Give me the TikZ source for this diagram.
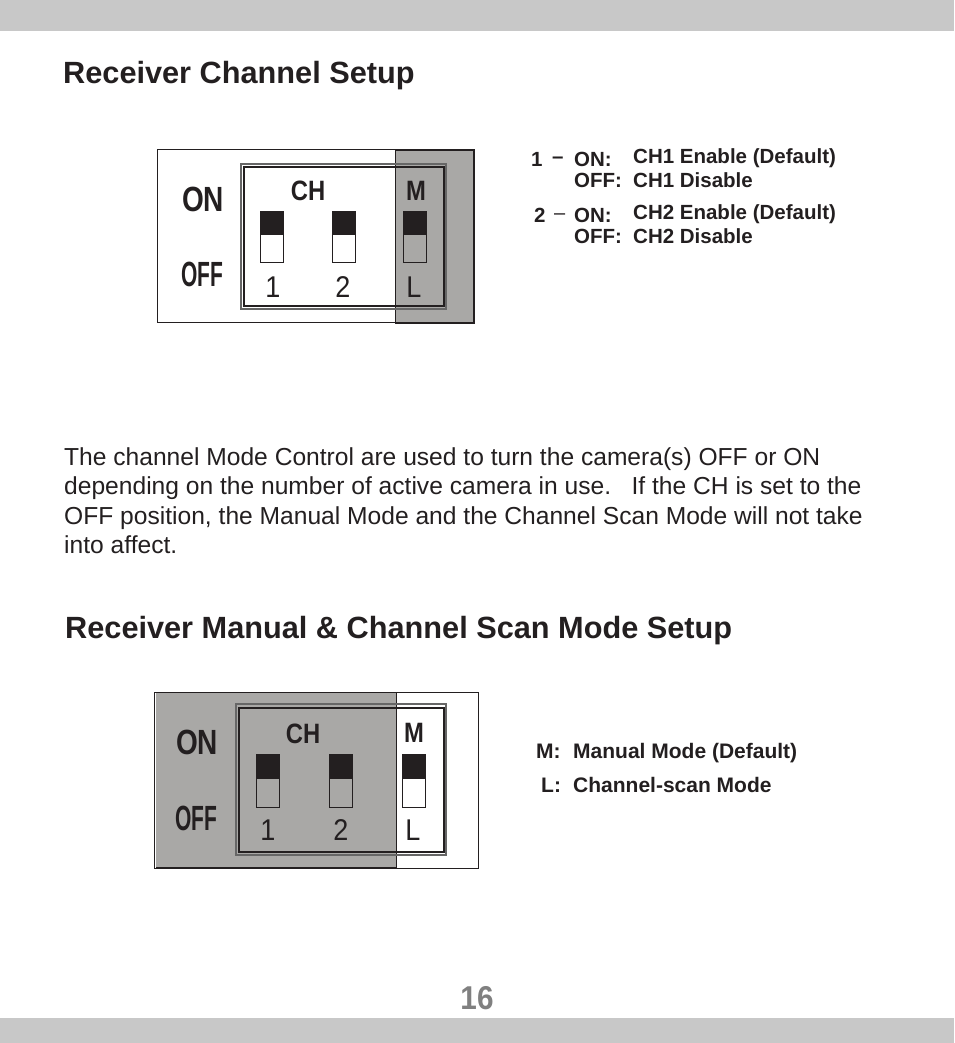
\documentclass[tikz,border=0pt]{standalone}
\usepackage{fontspec}
\setmainfont{Liberation Sans}
\definecolor{bandgray}{HTML}{C8C8C8}
\definecolor{maskgray}{HTML}{A9A8A6}
\definecolor{swblack}{HTML}{231F20}
\tikzset{
  base/.style={inner sep=0pt,anchor=base west,text=swblack},
  heading/.style={base,font=\bfseries\fontsize{30.7}{30.7}\selectfont},
  bodyline/.style={base,font=\fontsize{24.6}{24.6}\selectfont},
  info/.style={base,font=\bfseries\fontsize{20.5}{20.5}\selectfont},
  infobig/.style={base,font=\bfseries\fontsize{21}{21}\selectfont},
  dip/.style={inner sep=0pt,text=swblack,font=\bfseries\fontsize{#1}{#1}\selectfont},
  digit/.style={inner sep=0pt,text=swblack,xscale=0.9,font=\fontsize{30}{30}\selectfont},
}
\begin{document}
\begin{tikzpicture}[x=1pt,y=-1pt]
  \useasboundingbox (0,0) rectangle (954,1043);
  \fill [bandgray] (0,0) rectangle (954,31);
  \fill [bandgray] (0,1018) rectangle (954,1043);

  \node [heading] (title1) at (63,84) {Receiver Channel Setup};

  % upper switch block
  \draw [line width=1pt,color=swblack] (157,150) rectangle (474,322);
  \fill [maskgray] (395,151) rectangle (474,323);
  \draw [line width=1pt,color=swblack] (395,323) -- (395,151) -- (474,151);
  \draw [line width=1.8pt,color=swblack] (474,151) -- (474,323) -- (395,323);
  \draw [line width=1.4pt,color=black!60] (241,164) rectangle (446,309);
  \draw [line width=1.1pt,color=swblack] (244,167) rectangle (444,306);
  \foreach \x in {260,332,403} {
    \draw [line width=0.9pt,color=swblack] (\x,211) rectangle ++(23,51);
    \fill [swblack] (\x,211) rectangle ++(23,24);
  }
  \node [dip=35,xscale=0.8] (on1) at (203,199) {ON};
  \node [dip=35,xscale=0.6] (off1) at (202,274) {OFF};
  \node [dip=28,xscale=0.85] (ch1) at (308,191) {CH};
  \node [dip=28,xscale=0.85] (m1) at (416,191) {M};
  \node [digit] (one1) at (273,287) {1};
  \node [digit] (two1) at (343,287) {2};
  \node [digit] (l1) at (414,287) {L};

  \node [info] (num1) at (531,167) {1};
  \node [info] (dash1) at (552,164) {–};
  \node [info] (on1txt) at (574,167) {ON:};
  \node [info] (ch1on) at (633,164) {CH1 Enable (Default)};
  \node [info] (off1txt) at (574,187) {OFF:};
  \node [info] (ch1off) at (633,187) {CH1 Disable};
  \node [info] (num2) at (534,222) {2};
  \node [base,font=\fontsize{20}{20}\selectfont] (dash2) at (554,219) {–};
  \node [info] (on2txt) at (574,222) {ON:};
  \node [info] (ch2on) at (633,219) {CH2 Enable (Default)};
  \node [info] (off2txt) at (574,243) {OFF:};
  \node [info] (ch2off) at (633,243) {CH2 Disable};

  \node [bodyline] (para1) at (64,465) {The channel Mode Control are used to turn the camera(s) OFF or ON};
  \node [bodyline] (para2) at (64,494) {depending on the number of active camera in use.\ \ \ If the CH is set to the};
  \node [bodyline] (para3) at (64,524) {OFF position, the Manual Mode and the Channel Scan Mode will not take};
  \node [bodyline] (para4) at (64,553) {into affect.};

  \node [heading] (title2) at (65,638) {Receiver Manual \& Channel Scan Mode Setup};

  % lower switch block
  \fill [maskgray] (156,692) rectangle (396,868);
  \draw [line width=1pt,color=swblack] (154,692) rectangle (478,868);
  \draw [line width=1.8pt,color=swblack] (156,868) -- (396,868);
  \draw [line width=1pt,color=swblack] (396,868) -- (396,692);
  \draw [line width=1.4pt,color=black!60] (236,704) rectangle (446,855);
  \draw [line width=1.1pt,color=swblack] (239,708) rectangle (444,852);
  \foreach \x in {256,329,402} {
    \draw [line width=0.9pt,color=swblack] (\x,754) rectangle ++(23,53);
    \fill [swblack] (\x,754) rectangle ++(23,25);
  }
  \node [dip=35,xscale=0.8] (on2) at (197,742) {ON};
  \node [dip=35,xscale=0.6] (off2) at (196,818) {OFF};
  \node [dip=28,xscale=0.85] (ch2) at (303,734) {CH};
  \node [dip=28,xscale=0.85] (m2) at (414,733) {M};
  \node [digit] (one2) at (268,830) {1};
  \node [digit] (two2) at (341,830) {2};
  \node [digit] (l2) at (413,830) {L};

  \node [infobig] (mlabel) at (536,758) {M:};
  \node [infobig] (mtxt) at (573,758) {Manual Mode (Default)};
  \node [infobig] (llabel) at (541,792) {L:};
  \node [infobig] (ltxt) at (573,792) {Channel-scan Mode};

  \node [inner sep=0pt,text=black!50,xscale=0.9,font=\bfseries\fontsize{33}{33}\selectfont] (page) at (477,998) {16};
\end{tikzpicture}
\end{document}
